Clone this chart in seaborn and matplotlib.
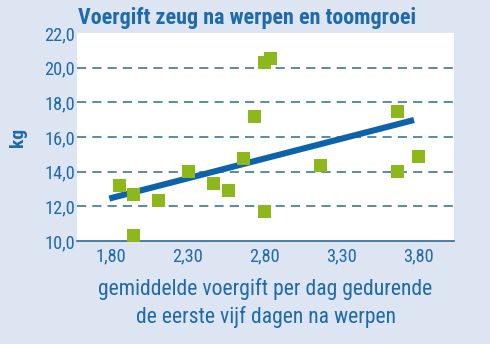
import matplotlib
matplotlib.use("Agg")
import matplotlib.pyplot as plt
from matplotlib import font_manager
import seaborn as sns
import pandas as pd

# data
voergift = [1.854, 1.949, 1.949, 2.112, 2.302, 2.464, 2.562, 2.659, 2.735,
            2.80, 2.837, 2.80, 3.162, 3.66, 3.66, 3.798]
toomgroei = [13.21, 12.69, 10.31, 12.31, 14.0, 13.33, 12.90, 14.77, 17.21,
             20.31, 20.54, 11.69, 14.35, 17.46, 14.0, 14.90]
trend_x = [1.79, 3.77]
trend_y = [12.45, 16.98]
x_ticks = [1.80, 2.30, 2.80, 3.30, 3.80]
x_ticklabels = ["1,80", "2,30", "2,80", "3,30", "3,80"]
y_ticks = [10, 12, 14, 16, 18, 20, 22]
y_ticklabels = ["10,0", "12,0", "14,0", "16,0", "18,0", "20,0", "22,0"]

title = "Voergift zeug na werpen en toomgroei"
xlabel = "gemiddelde voergift per dag gedurende\nde eerste vijf dagen na werpen"
ylabel = "kg"

bg = "#dde5f3"
blue_txt = "#1f69ad"
line_col = "#0d63ab"
marker_col = "#8cb81b"
grid_col = "#2a6b96"

sns.set_theme(style="white")

fonts = font_manager.fontManager.ttflist
def has_bold(name):
    return any(f.name == name and f.weight in (700, "bold") and f.style == "normal" for f in fonts)
names = {f.name for f in fonts}
fam = "Liberation Sans"
for cand in ["Roboto Condensed", "Liberation Sans Narrow", "Arimo Narrow",
             "Barlow Semi Condensed", "Asap Condensed", "Archivo Narrow"]:
    if cand in names and has_bold(cand):
        fam = cand
        break
plt.rcParams['font.family'] = [fam, 'DejaVu Sans']

df = pd.DataFrame({"x": voergift, "y": toomgroei})
tr = pd.DataFrame({"x": trend_x, "y": trend_y})

fig = plt.figure(figsize=(4.9, 3.44), dpi=100, facecolor=bg)
ax = fig.add_axes([77 / 490, 1 - 241 / 344, 377 / 490, 208 / 344])
ax.set_facecolor("white")

for yv in [12, 14, 16, 18, 20]:
    ax.axhline(yv, color=grid_col, lw=1.1, ls=(0, (6, 4)), zorder=1, clip_on=False)

sns.lineplot(data=tr, x="x", y="y", ax=ax, color=line_col, lw=4.4,
             zorder=2, solid_capstyle="butt")
sns.scatterplot(data=df, x="x", y="y", ax=ax, marker="s", s=88,
                color=marker_col, edgecolor="none", linewidth=0, zorder=3,
                clip_on=False)

ax.set_xlim(1.58, 4.03)
ax.set_ylim(10, 22)
ax.set_xticks(x_ticks)
ax.set_xticklabels(x_ticklabels)
ax.set_yticks(y_ticks)
ax.set_yticklabels(y_ticklabels)
ax.tick_params(axis="x", direction="in", length=7, width=1, color=grid_col,
               labelcolor=blue_txt, pad=4.5)
ax.tick_params(axis="y", length=0, labelcolor=blue_txt, pad=1.5)

for s in ["top", "right", "left"]:
    ax.spines[s].set_visible(False)
ax.spines["bottom"].set_color(grid_col)
ax.spines["bottom"].set_linewidth(1.2)

xl = ax.set_xlabel(xlabel, color=blue_txt, linespacing=1.3, va="center")
ax.xaxis.set_label_coords(0.5, -62 / 208)
yl = ax.set_ylabel(ylabel, color=blue_txt, fontweight="bold", va="center")
ax.yaxis.set_label_coords(-59 / 377, 0.5)
tt = fig.text(78 / 490, 1 - 18 / 344, title, fontweight="bold",
              color=blue_txt, ha="left", va="center")

# fit font sizes so text widths match the reference
def fit(artists, target, horizontal=True, base=12.0):
    for a in artists:
        a.set_fontsize(base)
    fig.canvas.draw()
    r = fig.canvas.get_renderer()
    e = artists[0].get_window_extent(r)
    w = e.width if horizontal else e.height
    size = base * target / w
    for a in artists:
        a.set_fontsize(size)
    return size

fit([tt], 338)
fit(ax.get_xticklabels() + ax.get_yticklabels(), 30.5)
fit([yl], 19, horizontal=False)
tmp = fig.text(0, 0, xlabel.split("\n")[0], fontsize=12)
fig.canvas.draw()
w = tmp.get_window_extent(fig.canvas.get_renderer()).width
tmp.remove()
xl.set_fontsize(12 * 335 / w)

fig.savefig("out.png", dpi=100, facecolor=bg)
